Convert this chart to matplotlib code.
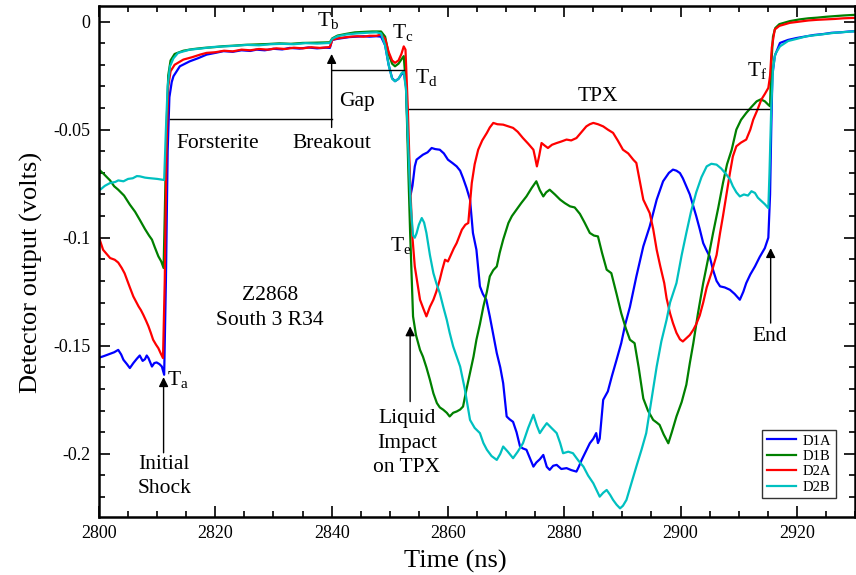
"""
Z2868 South 3 R34 detector traces
"""
import matplotlib
matplotlib.use('Agg')
import matplotlib.pyplot as plt
from matplotlib.ticker import MultipleLocator

plt.rcParams['font.family'] = ['Liberation Serif', 'DejaVu Serif']
plt.rcParams['mathtext.fontset'] = 'custom'
plt.rcParams['mathtext.rm'] = 'Liberation Serif'
plt.rcParams['axes.unicode_minus'] = False

# D1A
t_d1a = [2800.0, 2800.8, 2801.9, 2802.6, 2803.3, 2803.8, 2804.2, 2804.8, 2805.3, 2805.9,
         2806.5, 2807.0, 2807.5, 2807.9, 2808.2, 2808.5, 2809.1, 2809.5, 2809.9, 2810.4,
         2810.8, 2811.2, 2811.5, 2811.8, 2812.1, 2812.5, 2812.8, 2813.9, 2815.6, 2817.0,
         2818.5, 2820.0, 2821.4, 2823.0, 2824.5, 2826.0, 2827.1, 2828.5, 2830.0, 2831.5,
         2832.8, 2834.5, 2836.0, 2837.5, 2839.0, 2839.7, 2840.1, 2841.0, 2842.0, 2843.0,
         2844.3, 2845.5, 2846.5, 2847.7, 2848.5, 2849.2, 2849.8, 2850.4, 2850.9, 2851.5,
         2852.0, 2852.4, 2852.8, 2853.2, 2853.6, 2853.9, 2854.3, 2854.6, 2855.7, 2856.5,
         2857.2, 2857.8, 2858.6, 2859.3, 2860.0, 2860.8, 2861.5, 2862.1, 2862.6, 2863.2,
         2863.8, 2864.3, 2864.9, 2865.5, 2866.0, 2866.6, 2867.2, 2867.8, 2868.4, 2869.0,
         2869.5, 2870.1, 2870.6, 2871.2, 2871.8, 2872.4, 2872.9, 2873.5, 2874.1, 2874.7,
         2875.2, 2875.8, 2876.4, 2877.0, 2877.5, 2878.1, 2878.7, 2879.5, 2880.4, 2881.2,
         2882.1, 2882.5, 2883.0, 2883.7, 2884.4, 2885.0, 2885.5, 2885.8, 2886.1, 2886.7,
         2887.5, 2888.2, 2889.0, 2889.8, 2890.5, 2891.3, 2892.4, 2893.6, 2894.7, 2895.9,
         2897.0, 2898.0, 2898.7, 2899.3, 2899.9, 2900.4, 2901.0, 2901.6, 2902.2, 2902.7,
         2903.3, 2903.9, 2904.5, 2905.0, 2905.6, 2906.2, 2906.8, 2907.6, 2908.5, 2909.3,
         2910.2, 2910.8, 2911.3, 2912.0, 2912.8, 2913.6, 2914.5, 2915.1, 2915.4, 2915.6,
         2915.8, 2916.2, 2917.1, 2918.5, 2920.0, 2921.7, 2923.0, 2924.5, 2926.0, 2927.5,
         2929.0, 2930.0]
v_d1a = [-0.1555, -0.1548, -0.1537, -0.1530, -0.1519, -0.1540, -0.1565, -0.1585, -0.1603, -0.1580,
         -0.1560, -0.1545, -0.1570, -0.1562, -0.1545, -0.1557, -0.1596, -0.1580, -0.1577, -0.1585,
         -0.1596, -0.1634, -0.1200, -0.0600, -0.0350, -0.0280, -0.0253, -0.0207, -0.0184, -0.0170,
         -0.0153, -0.0145, -0.0137, -0.0140, -0.0133, -0.0136, -0.0130, -0.0133, -0.0126, -0.0129,
         -0.0122, -0.0125, -0.0120, -0.0124, -0.0121, -0.0122, -0.0085, -0.0080, -0.0076, -0.0072,
         -0.0070, -0.0068, -0.0070, -0.0068, -0.0070, -0.0110, -0.0200, -0.0262, -0.0276, -0.0265,
         -0.0245, -0.0235, -0.0300, -0.0600, -0.0800, -0.0760, -0.0670, -0.0639, -0.0616, -0.0605,
         -0.0585, -0.0590, -0.0593, -0.0610, -0.0639, -0.0655, -0.0670, -0.0690, -0.0724, -0.0770,
         -0.0824, -0.0978, -0.1056, -0.1225, -0.1260, -0.1287, -0.1364, -0.1450, -0.1534, -0.1600,
         -0.1673, -0.1827, -0.1840, -0.1852, -0.1900, -0.1966, -0.1975, -0.1981, -0.2020, -0.2059,
         -0.2040, -0.2025, -0.2005, -0.2060, -0.2074, -0.2055, -0.2051, -0.2070, -0.2066, -0.2075,
         -0.2082, -0.2060, -0.2028, -0.1990, -0.1951, -0.1930, -0.1904, -0.1950, -0.1930, -0.1750,
         -0.1711, -0.1640, -0.1565, -0.1488, -0.1400, -0.1320, -0.1180, -0.1040, -0.0948, -0.0824,
         -0.0739, -0.0700, -0.0685, -0.0690, -0.0701, -0.0725, -0.0762, -0.0800, -0.0855, -0.0900,
         -0.0960, -0.1025, -0.1060, -0.1086, -0.1150, -0.1200, -0.1225, -0.1230, -0.1241, -0.1260,
         -0.1287, -0.1250, -0.1210, -0.1170, -0.1133, -0.1090, -0.1048, -0.1000, -0.0800, -0.0500,
         -0.0250, -0.0160, -0.0099, -0.0085, -0.0076, -0.0068, -0.0062, -0.0058, -0.0052, -0.0050,
         -0.0046, -0.0045]

# D1B
t_d1b = [2800.0, 2800.8, 2801.9, 2802.6, 2803.3, 2804.3, 2805.3, 2806.2, 2807.0, 2807.9,
         2808.6, 2809.1, 2809.6, 2810.2, 2810.7, 2811.1, 2811.3, 2811.6, 2811.9, 2812.3,
         2813.0, 2814.5, 2816.0, 2818.0, 2820.0, 2821.4, 2823.0, 2825.0, 2827.0, 2829.0,
         2831.0, 2833.0, 2835.0, 2837.0, 2839.7, 2840.1, 2841.0, 2842.5, 2844.0, 2845.5,
         2847.0, 2848.5, 2849.2, 2849.8, 2850.4, 2850.9, 2851.5, 2852.0, 2852.4, 2852.8,
         2853.2, 2853.5, 2854.0, 2854.5, 2855.2, 2855.7, 2856.3, 2856.9, 2857.5, 2858.1,
         2858.6, 2859.2, 2859.8, 2860.3, 2860.9, 2861.5, 2862.1, 2862.6, 2863.2, 2863.8,
         2864.4, 2864.9, 2865.5, 2866.1, 2866.7, 2867.2, 2867.8, 2868.4, 2868.9, 2869.5,
         2870.4, 2871.0, 2871.8, 2872.6, 2873.5, 2874.4, 2875.2, 2875.8, 2876.4, 2876.9,
         2877.5, 2878.4, 2879.3, 2880.1, 2881.0, 2881.8, 2882.7, 2883.5, 2884.4, 2885.1,
         2885.8, 2886.5, 2887.3, 2888.1, 2889.0, 2889.8, 2890.6, 2891.3, 2892.1, 2892.8,
         2893.6, 2894.4, 2895.3, 2895.9, 2896.4, 2897.1, 2897.9, 2898.5, 2899.3, 2900.2,
         2901.0, 2901.6, 2902.2, 2903.0, 2903.9, 2904.8, 2905.6, 2906.5, 2907.3, 2908.0,
         2908.8, 2909.6, 2910.4, 2911.3, 2912.2, 2913.1, 2913.8, 2914.5, 2915.1, 2915.4,
         2915.6, 2915.9, 2916.3, 2917.0, 2918.8, 2920.5, 2922.0, 2923.5, 2925.0, 2926.5,
         2928.0, 2930.0]
v_d1b = [-0.0685, -0.0705, -0.0735, -0.0762, -0.0778, -0.0805, -0.0847, -0.0880, -0.0917, -0.0960,
         -0.0990, -0.1009, -0.1045, -0.1086, -0.1110, -0.1140, -0.0900, -0.0500, -0.0250, -0.0180,
         -0.0150, -0.0135, -0.0128, -0.0122, -0.0118, -0.0114, -0.0112, -0.0108, -0.0106, -0.0104,
         -0.0101, -0.0103, -0.0099, -0.0098, -0.0096, -0.0078, -0.0065, -0.0057, -0.0050, -0.0048,
         -0.0046, -0.0046, -0.0070, -0.0150, -0.0195, -0.0207, -0.0195, -0.0175, -0.0160, -0.0300,
         -0.0700, -0.0978, -0.1364, -0.1450, -0.1519, -0.1550, -0.1600, -0.1657, -0.1720, -0.1765,
         -0.1785, -0.1796, -0.1810, -0.1827, -0.1810, -0.1804, -0.1795, -0.1781, -0.1700, -0.1626,
         -0.1550, -0.1472, -0.1400, -0.1318, -0.1250, -0.1179, -0.1150, -0.1133, -0.1070, -0.1009,
         -0.0932, -0.0900, -0.0870, -0.0840, -0.0809, -0.0770, -0.0739, -0.0780, -0.0809, -0.0790,
         -0.0778, -0.0800, -0.0824, -0.0840, -0.0855, -0.0860, -0.0890, -0.0930, -0.0978, -0.0990,
         -0.0994, -0.1070, -0.1148, -0.1164, -0.1260, -0.1349, -0.1420, -0.1472, -0.1488, -0.1600,
         -0.1744, -0.1800, -0.1843, -0.1855, -0.1866, -0.1910, -0.1951, -0.1900, -0.1827, -0.1760,
         -0.1680, -0.1580, -0.1488, -0.1350, -0.1210, -0.1090, -0.0978, -0.0860, -0.0747, -0.0660,
         -0.0593, -0.0500, -0.0455, -0.0423, -0.0395, -0.0369, -0.0360, -0.0369, -0.0385, -0.0392,
         -0.0200, -0.0070, -0.0030, -0.0012, 0.0002, 0.0010, 0.0015, 0.0018, 0.0022, 0.0025,
         0.0028, 0.0031]

# D2A
t_d2a = [2800.0, 2800.7, 2801.3, 2801.9, 2802.7, 2803.3, 2803.9, 2804.4, 2804.8, 2805.3,
         2805.9, 2806.4, 2806.8, 2807.2, 2807.6, 2808.1, 2808.5, 2808.9, 2809.3, 2809.8,
         2810.2, 2810.6, 2811.0, 2811.3, 2811.6, 2811.9, 2812.3, 2813.0, 2814.5, 2816.0,
         2817.5, 2818.5, 2820.0, 2821.5, 2823.0, 2824.5, 2826.0, 2827.5, 2829.0, 2830.5,
         2832.0, 2833.5, 2835.0, 2836.5, 2838.0, 2839.7, 2840.1, 2841.0, 2842.0, 2843.3,
         2844.5, 2845.5, 2846.5, 2847.7, 2848.5, 2849.2, 2849.8, 2850.4, 2850.9, 2851.5,
         2852.0, 2852.4, 2852.7, 2853.1, 2853.5, 2853.9, 2854.3, 2854.8, 2855.2, 2855.8,
         2856.3, 2856.9, 2857.5, 2858.0, 2858.6, 2859.0, 2859.5, 2860.0, 2860.5, 2861.0,
         2861.5, 2862.4, 2863.0, 2863.5, 2864.1, 2864.6, 2865.2, 2865.9, 2866.7, 2867.2,
         2867.8, 2868.5, 2869.5, 2870.4, 2871.2, 2872.0, 2872.9, 2873.8, 2874.7, 2875.0,
         2875.3, 2875.7, 2876.1, 2876.7, 2877.2, 2877.9, 2878.7, 2879.5, 2880.4, 2881.2,
         2882.1, 2883.0, 2883.8, 2884.4, 2885.0, 2885.8, 2886.7, 2887.5, 2888.4, 2889.2,
         2890.1, 2891.0, 2891.9, 2892.4, 2893.0, 2893.6, 2894.7, 2895.3, 2895.9, 2896.5,
         2897.2, 2897.6, 2898.2, 2898.7, 2899.3, 2899.9, 2900.4, 2901.0, 2901.6, 2902.2,
         2902.7, 2903.3, 2903.9, 2904.5, 2905.3, 2906.2, 2906.8, 2907.3, 2907.9, 2908.5,
         2909.0, 2909.6, 2910.4, 2911.3, 2912.0, 2912.5, 2913.2, 2913.9, 2914.5, 2915.1,
         2915.4, 2915.7, 2916.2, 2917.0, 2918.8, 2920.5, 2922.0, 2923.5, 2925.0, 2926.5,
         2928.0, 2930.0]
v_d2a = [-0.1000, -0.1056, -0.1075, -0.1094, -0.1102, -0.1115, -0.1140, -0.1165, -0.1194, -0.1230,
         -0.1272, -0.1298, -0.1318, -0.1335, -0.1356, -0.1385, -0.1410, -0.1440, -0.1472, -0.1495,
         -0.1511, -0.1535, -0.1557, -0.1200, -0.0600, -0.0300, -0.0230, -0.0200, -0.0176, -0.0165,
         -0.0152, -0.0145, -0.0142, -0.0135, -0.0138, -0.0130, -0.0133, -0.0127, -0.0130, -0.0124,
         -0.0127, -0.0121, -0.0124, -0.0119, -0.0122, -0.0118, -0.0085, -0.0078, -0.0074, -0.0070,
         -0.0068, -0.0070, -0.0066, -0.0066, -0.0060, -0.0080, -0.0140, -0.0180, -0.0191, -0.0180,
         -0.0150, -0.0115, -0.0130, -0.0400, -0.0750, -0.1000, -0.1133, -0.1220, -0.1287, -0.1330,
         -0.1364, -0.1320, -0.1287, -0.1250, -0.1194, -0.1150, -0.1102, -0.1110, -0.1080, -0.1050,
         -0.1025, -0.0963, -0.0940, -0.0932, -0.0747, -0.0660, -0.0593, -0.0550, -0.0515, -0.0490,
         -0.0469, -0.0475, -0.0477, -0.0485, -0.0492, -0.0510, -0.0539, -0.0565, -0.0593, -0.0630,
         -0.0670, -0.0620, -0.0562, -0.0575, -0.0585, -0.0570, -0.0562, -0.0555, -0.0546, -0.0550,
         -0.0539, -0.0510, -0.0485, -0.0475, -0.0469, -0.0475, -0.0485, -0.0500, -0.0515, -0.0550,
         -0.0593, -0.0610, -0.0640, -0.0654, -0.0740, -0.0824, -0.0886, -0.0960, -0.1056, -0.1130,
         -0.1210, -0.1280, -0.1350, -0.1395, -0.1440, -0.1470, -0.1480, -0.1465, -0.1450, -0.1426,
         -0.1400, -0.1360, -0.1300, -0.1230, -0.1164, -0.1080, -0.0978, -0.0900, -0.0800, -0.0700,
         -0.0624, -0.0577, -0.0560, -0.0546, -0.0500, -0.0454, -0.0410, -0.0361, -0.0335, -0.0307,
         -0.0250, -0.0120, -0.0037, -0.0020, -0.0006, 0.0000, 0.0005, 0.0008, 0.0010, 0.0012,
         0.0015, 0.0017]

# D2B
t_d2b = [2800.0, 2800.2, 2801.0, 2801.9, 2802.8, 2803.3, 2804.2, 2805.0, 2805.8, 2806.5,
         2807.0, 2807.9, 2808.5, 2809.3, 2810.0, 2810.8, 2811.2, 2811.5, 2811.8, 2812.2,
         2812.8, 2813.6, 2815.6, 2817.5, 2819.5, 2821.5, 2823.5, 2825.5, 2827.5, 2829.5,
         2831.5, 2833.5, 2835.5, 2837.5, 2839.7, 2840.1, 2841.0, 2842.5, 2844.3, 2846.0,
         2847.7, 2848.5, 2849.2, 2849.8, 2850.4, 2850.9, 2851.5, 2852.0, 2852.4, 2852.8,
         2853.2, 2853.6, 2854.0, 2854.3, 2854.6, 2855.0, 2855.5, 2855.9, 2856.3, 2856.9,
         2857.5, 2858.0, 2858.6, 2859.2, 2859.8, 2860.3, 2860.9, 2861.5, 2862.1, 2862.9,
         2863.8, 2864.6, 2865.5, 2866.1, 2866.7, 2867.5, 2868.4, 2869.0, 2869.5, 2870.3,
         2871.2, 2872.0, 2872.9, 2873.8, 2874.7, 2875.3, 2875.8, 2876.4, 2877.0, 2877.8,
         2878.7, 2879.3, 2879.8, 2880.7, 2881.5, 2882.4, 2883.3, 2884.1, 2885.0, 2885.6,
         2886.1, 2886.7, 2887.3, 2887.9, 2888.4, 2889.0, 2889.6, 2890.1, 2890.7, 2891.5,
         2892.4, 2893.3, 2894.1, 2895.0, 2895.9, 2896.7, 2897.6, 2898.2, 2899.3, 2900.2,
         2901.0, 2901.8, 2902.7, 2903.6, 2904.5, 2905.3, 2906.2, 2907.0, 2907.9, 2908.5,
         2909.0, 2909.6, 2910.2, 2910.9, 2911.6, 2912.2, 2912.8, 2913.3, 2913.9, 2914.5,
         2915.1, 2915.3, 2915.6, 2915.9, 2916.3, 2917.1, 2918.5, 2920.0, 2921.7, 2923.5,
         2925.0, 2926.5, 2928.0, 2930.0]
v_d2b = [-0.0770, -0.0778, -0.0760, -0.0747, -0.0742, -0.0735, -0.0739, -0.0728, -0.0725, -0.0715,
         -0.0716, -0.0722, -0.0724, -0.0726, -0.0728, -0.0731, -0.0733, -0.0500, -0.0300, -0.0207,
         -0.0170, -0.0145, -0.0130, -0.0125, -0.0118, -0.0115, -0.0112, -0.0108, -0.0110, -0.0105,
         -0.0103, -0.0105, -0.0100, -0.0102, -0.0099, -0.0080, -0.0068, -0.0060, -0.0055, -0.0052,
         -0.0050, -0.0055, -0.0110, -0.0200, -0.0265, -0.0276, -0.0265, -0.0240, -0.0230, -0.0320,
         -0.0600, -0.0850, -0.0990, -0.1000, -0.0980, -0.0940, -0.0909, -0.0930, -0.0978, -0.1080,
         -0.1164, -0.1210, -0.1256, -0.1320, -0.1380, -0.1440, -0.1503, -0.1550, -0.1596, -0.1700,
         -0.1843, -0.1880, -0.1904, -0.1950, -0.1981, -0.2010, -0.2028, -0.2000, -0.1966, -0.1990,
         -0.2020, -0.1990, -0.1951, -0.1880, -0.1819, -0.1870, -0.1904, -0.1880, -0.1858, -0.1880,
         -0.1904, -0.1950, -0.1997, -0.1990, -0.1997, -0.2030, -0.2059, -0.2100, -0.2136, -0.2170,
         -0.2198, -0.2180, -0.2167, -0.2190, -0.2213, -0.2235, -0.2252, -0.2240, -0.2213, -0.2140,
         -0.2059, -0.1980, -0.1904, -0.1750, -0.1596, -0.1480, -0.1380, -0.1300, -0.1210, -0.1080,
         -0.0978, -0.0880, -0.0790, -0.0720, -0.0670, -0.0658, -0.0662, -0.0680, -0.0708, -0.0730,
         -0.0762, -0.0790, -0.0809, -0.0800, -0.0805, -0.0785, -0.0793, -0.0815, -0.0830, -0.0845,
         -0.0863, -0.0700, -0.0400, -0.0220, -0.0150, -0.0115, -0.0090, -0.0080, -0.0068, -0.0062,
         -0.0057, -0.0052, -0.0049, -0.0045]

series = [('D1A', t_d1a, v_d1a, '#0000ff'),
          ('D1B', t_d1b, v_d1b, '#008000'),
          ('D2A', t_d2a, v_d2a, '#ff0000'),
          ('D2B', t_d2b, v_d2b, '#00c0c0')]

y_ticks = [0, -0.05, -0.1, -0.15, -0.2]
y_tick_labels = ['0', '-0.05', '-0.1', '-0.15', '-0.2']

fig = plt.figure(figsize=(8.56, 5.75), dpi=100)
ax = fig.add_axes([0.1157, 0.1009, 0.8831, 0.8887])

for name, t, v, c in series:
    ax.plot(t, v, color=c, lw=1.6, label=name)

ax.set_xlim(2800, 2930)
ax.set_ylim(-0.2292, 0.0072)
ax.xaxis.set_major_locator(MultipleLocator(20))
ax.xaxis.set_minor_locator(MultipleLocator(5))
ax.set_yticks(y_ticks)
ax.set_yticklabels(y_tick_labels)
ax.yaxis.set_minor_locator(MultipleLocator(0.01))
ax.tick_params(which='both', direction='in', top=True, right=True, labelsize=13, width=1.2)
ax.tick_params(which='major', length=8, pad=6)
ax.tick_params(which='minor', length=4)
for s in ax.spines.values():
    s.set_linewidth(1.8)

ax.set_xlabel('Time (ns)', fontsize=19)
ax.set_ylabel('Detector output (volts)', fontsize=19)
ax.xaxis.set_label_coords(0.471, -0.064)
ax.yaxis.set_label_coords(-0.074, 0.479)

# 标注线
ax.plot([2812.2, 2840.0], [-0.0450, -0.0450], color='k', lw=1.0)
ax.plot([2840.0, 2852.4], [-0.0222, -0.0222], color='k', lw=1.0)
ax.plot([2853.3, 2915.3], [-0.0404, -0.0404], color='k', lw=1.0)

arw = dict(arrowstyle='-|>', color='k', lw=1.0, mutation_scale=14, shrinkA=0, shrinkB=0)
ax.annotate('', xy=(2840.0, -0.0150), xytext=(2840.0, -0.0490), arrowprops=arw)
ax.annotate('', xy=(2811.1, -0.1645), xytext=(2811.1, -0.1995), arrowprops=arw)
ax.annotate('', xy=(2853.5, -0.1410), xytext=(2853.5, -0.1758), arrowprops=arw)
ax.annotate('', xy=(2915.5, -0.1048), xytext=(2915.5, -0.1395), arrowprops=arw)

fs = 15.5
ax.text(2820.5, -0.0565, 'Forsterite', fontsize=fs, ha='center', va='center')
ax.text(2840.1, -0.0565, 'Breakout', fontsize=fs, ha='center', va='center')
ax.text(2844.4, -0.0370, 'Gap', fontsize=fs, ha='center', va='center')
ax.text(2885.8, -0.0345, 'TPX', fontsize=fs, ha='center', va='center')
ax.text(2829.4, -0.1325, 'Z2868\nSouth 3 R34', fontsize=fs, ha='center', va='center',
        linespacing=1.4)
ax.text(2811.2, -0.2105, 'Initial\nShock', fontsize=fs, ha='center', va='center',
        linespacing=1.4)
ax.text(2852.9, -0.1950, 'Liquid\nImpact\non TPX', fontsize=fs, ha='center', va='center',
        linespacing=1.4)
ax.text(2915.4, -0.1458, 'End', fontsize=fs, ha='center', va='center')

labels_t = [('a', 2811.7, -0.1660), ('b', 2837.4, 0.0000), ('c', 2850.4, -0.0055),
            ('d', 2854.4, -0.0260), ('e', 2850.0, -0.1040), ('f', 2911.4, -0.0230)]
for sub, x, y in labels_t:
    ax.text(x, y, r'T$_{\mathrm{%s}}$' % sub, fontsize=fs, ha='left', va='center')

leg = ax.legend(loc='lower right', bbox_to_anchor=(0.975, 0.037), borderaxespad=0,
                fontsize=10.5, frameon=True, fancybox=False, edgecolor='k',
                handlelength=2.0, handletextpad=0.5, borderpad=0.3, labelspacing=0.15)
leg.get_frame().set_linewidth(1.0)

plt.savefig('out.png', dpi=100)
